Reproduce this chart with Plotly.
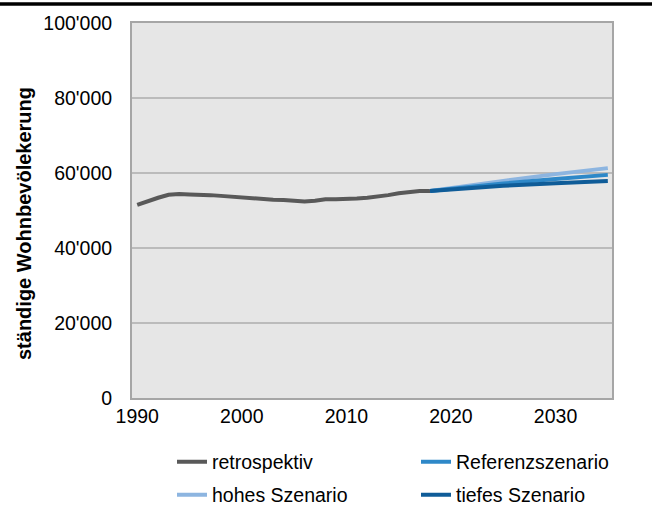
import plotly.graph_objects as go

# ---- data ----
retro_years = list(range(1990, 2019))
retro_values = [51500, 52500, 53400, 54200, 54400, 54300, 54300, 54100, 53900, 53700,
                53500, 53100, 53000, 52900, 52800, 52500, 52400, 52600, 53000, 53000,
                53000, 53200, 53400, 53700, 54100, 54600, 55000, 55200, 55200]

scen_years = [2018, 2020, 2025, 2030, 2035]
ref_values = [55200, 55800, 57200, 58400, 59500]
high_values = [55200, 55900, 57900, 59700, 61300]
low_values = [55200, 55600, 56600, 57300, 57900]

names = ["retrospektiv", "Referenzszenario", "hohes Szenario", "tiefes Szenario"]
y_ticks = [0, 20000, 40000, 60000, 80000, 100000]
x_ticks = [1990, 2000, 2010, 2020, 2030]
y_title = "ständige Wohnbevölekerung"

colors = ["#595959", "#2E88C8", "#8DB5E0", "#0F5C98"]

FONT = "Liberation Sans, Arial, sans-serif"

W, H = 652, 505
L, R, T, B = 132, 40, 23, 107
PW, PH = W - L - R, H - T - B

def px_x(px):
    return (px - L) / PW

def px_y(py):
    return (H - B - py) / PH

fig = go.Figure()
series = [
    (retro_years, retro_values, "legend"),
    (scen_years, high_values, "legend3"),
    (scen_years, ref_values, "legend2"),
    (scen_years, low_values, "legend4"),
]
name_order = [names[0], names[2], names[1], names[3]]
color_order = [colors[0], colors[2], colors[1], colors[3]]
for (xs, ys, lg), nm, c in zip(series, name_order, color_order):
    fig.add_trace(go.Scatter(x=xs, y=ys, mode="lines", name=nm, legend=lg, showlegend=True,
                             line=dict(color=c, width=4), hoverinfo="skip"))

legend_common = dict(orientation="v", xanchor="left", yanchor="middle",
                     bgcolor="rgba(0,0,0,0)", borderwidth=0,
                     font=dict(family=FONT, size=19.5, color="#000000"))

fig.update_layout(
    width=W, height=H,
    margin=dict(l=L, r=R, t=T, b=B, autoexpand=False),
    paper_bgcolor="white",
    plot_bgcolor="#E6E6E6",
    separators=".'",
    showlegend=True,
    font=dict(family=FONT, size=19.5, color="#000000"),
    legend=dict(**legend_common, x=px_x(172), y=px_y(462)),
    legend2=dict(**legend_common, x=px_x(416), y=px_y(462)),
    legend3=dict(**legend_common, x=px_x(172), y=px_y(495)),
    legend4=dict(**legend_common, x=px_x(416), y=px_y(495)),
    xaxis=dict(range=[1989.5, 2035.4], tickvals=x_ticks, ticks="", showgrid=False,
               zeroline=False, showline=True, linecolor="#A6A6A6", linewidth=2, mirror=True,
               ticklabelstandoff=0,
               tickfont=dict(family=FONT, size=19.5, color="#000000")),
    yaxis=dict(range=[0, 100000], tickvals=y_ticks, tickformat=",d", ticks="",
               showgrid=True, gridcolor="#BBBBBB", gridwidth=2, zeroline=False,
               showline=True, linecolor="#A6A6A6", linewidth=2, mirror=True,
               ticklabelstandoff=14,
               tickfont=dict(family=FONT, size=19.5, color="#000000")),
    annotations=[dict(text=y_title, textangle=-90, xref="paper", yref="paper",
                      x=px_x(24), y=px_y(224), xanchor="center", yanchor="middle",
                      showarrow=False,
                      font=dict(family=FONT, size=20, color="#000000", weight="bold"))],
    shapes=[dict(type="line", xref="paper", yref="paper",
                 x0=px_x(0), x1=px_x(W), y0=px_y(4), y1=px_y(4),
                 line=dict(color="#000000", width=3.5))],
)

fig.write_html("out.html", config={"displayModeBar": False},
               post_script="document.body.style.margin='0';document.body.style.padding='0';")
